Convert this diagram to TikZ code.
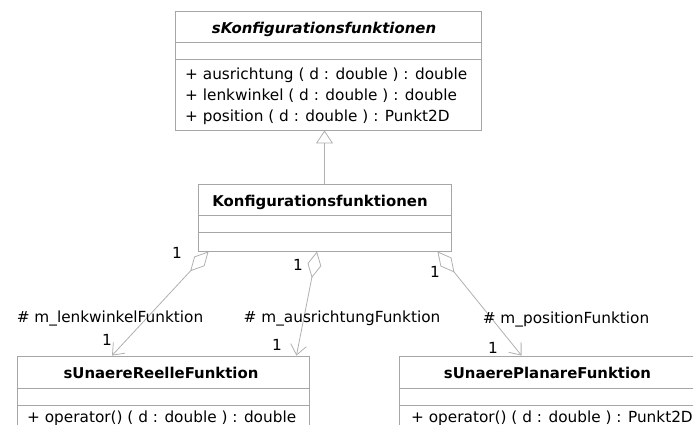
\documentclass[tikz,border=0pt]{standalone}
\usepackage{fontspec}
\setmainfont{DejaVu Sans}
\usetikzlibrary{arrows.meta, positioning, calc}
\definecolor{umlgray}{HTML}{A6A6A6}
\definecolor{linkgray}{HTML}{B0B0B0}
\newcommand{\umlsize}{\fontsize{15.3}{18}\selectfont}
\newcommand{\umlnamesize}{\fontsize{14.9}{18}\selectfont}

\tikzset{
  classbox/.style={draw=umlgray, line width=0.9pt, inner sep=0pt},
  sepline/.style={draw=umlgray, line width=0.9pt},
  classname/.style={font=\umlnamesize\bfseries, inner sep=0pt, anchor=base},
  member/.style={font=\umlsize, inner sep=0pt, anchor=base west},
  rolelabel/.style={font=\umlsize, inner sep=0pt, anchor=base},
  multlabel/.style={font=\umlsize, inner sep=0pt, anchor=base},
  aggr/.style={draw=linkgray, line width=0.8pt,
    arrows={Diamond[open, length=27pt, width=14pt]-Straight Barb[length=10pt, width=16pt]}},
  inherit/.style={draw=linkgray, line width=0.8pt,
    arrows={-Triangle[open, length=13pt, width=17pt]}}
}

\begin{document}
\begin{tikzpicture}[x=1pt, y=-1pt]
  \useasboundingbox (0,0) rectangle (693,425);
  \clip (0,0) rectangle (693,425);

  % abstract interface
  \node[classbox, minimum width=306, minimum height=119] (sKonf) at (328,70.5) {};
  \node[classname, font=\umlnamesize\bfseries\itshape] (sKonfName) at (324,34) {sKonfigurationsfunktionen};
  \draw[sepline] (sKonf.west |- 0,42) -- (sKonf.east |- 0,42);
  \draw[sepline] (sKonf.west |- 0,59) -- (sKonf.east |- 0,59);
  \node[member] (mAusr) at (185,80) {+ ausrichtung ( d : double ) : double};
  \node[member] (mLenk) at (185,101) {+ lenkwinkel ( d : double ) : double};
  \node[member] (mPos) at (185,122) {+ position ( d : double ) : Punkt2D};

  % implementation
  \node[classbox, minimum width=253, minimum height=67] (konf) at (324.5,217.5) {};
  \node[classname] (konfName) at (320,206) {Konfigurationsfunktionen};
  \draw[sepline] (konf.west |- 0,215) -- (konf.east |- 0,215);
  \draw[sepline] (konf.west |- 0,232) -- (konf.east |- 0,232);

  % function classes
  \node[classbox, minimum width=292, minimum height=80] (reelle) at (163,396) {};
  \node[classname] (reelleName) at (161,378) {sUnaereReelleFunktion};
  \draw[sepline] (reelle.west |- 0,388) -- (reelle.east |- 0,388);
  \draw[sepline] (reelle.west |- 0,405) -- (reelle.east |- 0,405);
  \node[member] (mReelle) at (27,422) {+ operator() ( d : double ) : double};

  \node[classbox, minimum width=297, minimum height=80] (planare) at (547.5,396) {};
  \node[classname] (planareName) at (547.5,378) {sUnaerePlanareFunktion};
  \draw[sepline] (planare.west |- 0,388) -- (planare.east |- 0,388);
  \draw[sepline] (planare.west |- 0,405) -- (planare.east |- 0,405);
  \node[member] (mPlanare) at (411,422) {+ operator() ( d : double ) : Punkt2D};

  % connectors
  \draw[inherit] (konf.north) -- (konf.north |- sKonf.south);

  \coordinate (lenkFrom) at ([xshift=11pt]konf.south west);
  \coordinate (lenkTo) at ([xshift=-51pt]reelle.north);
  \coordinate (ausrFrom) at ([xshift=-7.5pt]konf.south);
  \coordinate (ausrTo) at ([xshift=-13pt]reelle.north east);
  \coordinate (posFrom) at ([xshift=-14pt]konf.south east);
  \coordinate (posTo) at ([xshift=123pt]planare.north west);
  \draw[aggr] (lenkFrom) -- (lenkTo);
  \draw[aggr] (ausrFrom) -- (ausrTo);
  \draw[aggr] (posFrom) -- (posTo);

  % role names and multiplicities
  \node[multlabel] (lenkMulA) at (177,258) {1};
  \node[rolelabel] (lenkRole) at (110,322) {\# m\_lenkwinkelFunktion};
  \node[multlabel] (lenkMulB) at (107,345) {1};
  \node[multlabel] (ausrMulA) at (298,270) {1};
  \node[rolelabel] (ausrRole) at (342,322) {\# m\_ausrichtungFunktion};
  \node[multlabel] (ausrMulB) at (277,350) {1};
  \node[multlabel] (posMulA) at (435,277) {1};
  \node[rolelabel] (posRole) at (566,323) {\# m\_positionFunktion};
  \node[multlabel] (posMulB) at (493,353) {1};
\end{tikzpicture}
\end{document}
